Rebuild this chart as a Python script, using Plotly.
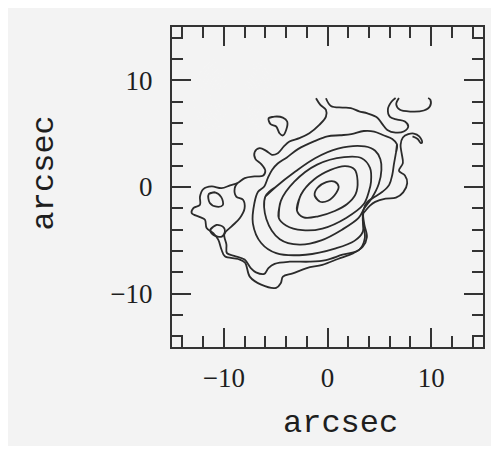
import plotly.graph_objects as go

# ---- contour traces (arcsec) ----
c1_x = [-1.24, -0.76, 0.05, 0.84, 1.07, 0.68, -0.12, -0.98]
c1_y = [-0.80, -1.36, -1.29, -0.57, 0.05, 0.51, 0.46, -0.10]

c2_x = [-2.95, -2.55, -1.3, 0.3, 1.7, 2.6, 2.9, 2.7, 1.9, 0.7, -0.9, -2.3]
c2_y = [-2.2, -0.7, 0.7, 1.6, 1.95, 1.65, 0.6, -0.7, -1.6, -2.25, -2.75, -2.85]

c3_x = [-4.7, -4.5, -3.2, -1.0, 1.6, 3.3, 4.1, 4.2, 4.0, 3.5, 1.8, -0.5, -2.4, -4.0]
c3_y = [-2.9, -1.3, 0.5, 2.1, 2.8, 2.7, 1.8, 0.5, -0.4, -1.6, -2.9, -3.9, -4.05, -3.6]

c4_x = [-5.0, -6.0, -5.9, -4.6, -2.7, -0.6, 1.4, 3.0, 3.55, 4.3, 4.95, 5.2, 5.1, 4.6, 3.6, 1.0, -1.2, -3.1]
c4_y = [0.0, -0.9, -3.0, -4.9, -5.4, -5.0, -4.0, -2.9, -2.0, -1.0, 0.3, 1.6, 2.6, 3.4, 3.8, 3.6, 2.7, 1.45]

c5_x = [6.6, 6.7, 6.25, 5.4, 4.5, 3.5, 2.3, 1.2, 0.0, -1.25, -2.85, -3.95, -4.8, -5.35, -5.75, -6.1,
        -6.7, -7.05, -7.2, -6.4, -4.95, -2.1, 0.8, 2.6, 3.4, 3.4, 3.45, 3.85, 4.35, 5.3, 5.95, 6.25, 6.4]
c5_y = [3.2, 4.0, 4.5, 4.85, 5.2, 5.25, 4.95, 4.85, 4.75, 4.3, 3.55, 2.75, 2.2, 1.6, 0.85, 0.05,
        -0.45, -1.5, -3.4, -5.25, -6.2, -6.35, -5.75, -5.05, -4.2, -3.0, -2.2, -1.4, -1.05, -0.45, 0.2, 1.15, 2.1]

c6_x = [-8.7, -8.95, -8.8, -8.15, -8.0, -8.45, -9.25, -9.95, -9.75, -9.7, -9.0, -8.0, -7.4, -6.9, -6.1,
        -5.7, -5.1, -3.65, -1.75, -0.15, 1.45, 3.05, 3.6, 3.45, 3.4]
c6_y = [0.35, -0.1, -0.9, -1.2, -2.0, -2.9, -3.7, -4.4, -5.4, -6.2, -6.45, -6.8, -7.6, -8.0, -8.15,
        -7.6, -7.2, -7.0, -7.0, -6.85, -6.35, -5.9, -4.8, -3.5, -2.4]

c7_x = [-1.11, -0.69, -0.15, -0.15, -0.79, -1.75, -2.71, -3.67, -4.21, -4.79, -5.36, -5.91, -6.55, -7.03,
        -6.96, -6.39, -6.00, -6.23, -7.03, -7.98, -8.69, -9.4, -10.22, -11.18, -11.98, -12.30, -12.30,
        -12.94, -13.10, -12.30, -11.82, -11.66, -11.02, -10.54, -10.22, -9.90, -8.62, -7.95, -7.5, -6.4,
        -4.95, -4.5, -4.3, -3.35, -2.0, -0.5, 1.0, 2.5, 3.4, 3.8, 3.55, 3.45, 3.6, 4.1, 4.6, 5.6, 6.6,
        7.3, 7.69, 7.47, 6.89, 7.27, 7.15, 7.05, 7.27, 7.79, 8.33, 8.85, 9.13, 9.0, 8.7, 8.2]
c7_y = [8.32, 7.70, 7.23, 6.60, 5.82, 5.04, 4.58, 4.26, 3.80, 3.17, 3.02, 3.39, 3.64, 3.26,
        2.64, 2.14, 1.52, 1.05, 0.99, 0.83, 0.36, 0.15, -0.11, 0.05, -0.20, -0.89, -1.67,
        -1.98, -2.45, -2.82, -3.07, -3.85, -4.32, -4.94, -5.88, -6.50, -6.75, -7.1, -8.4, -9.15,
        -9.45, -9.0, -8.4, -8.1, -7.6, -7.3, -6.75, -6.2, -5.6, -4.7, -3.5, -2.5, -2.3, -1.75, -1.4, -1.1, -1.0,
        -0.5, 0.36, 1.08, 1.52, 2.23, 3.17, 3.95, 4.64, 4.95, 5.01, 4.75, 4.2, 4.12, 4.5, 4.75]

hook_x = [-0.15, 0.33, 1.45, 2.25, 3.05, 3.85, 4.81, 5.29, 5.77, 6.57, 7.35, 7.79, 7.47, 6.73, 6.03, 5.83, 6.19, 6.57]
hook_y = [8.32, 7.6, 7.45, 7.4, 7.1, 6.9, 6.5, 5.9, 5.35, 5.1, 5.2, 5.67, 6.14, 6.32, 6.57, 7.32, 8.01, 8.35]

u_x = [6.89, 6.63, 6.95, 8.01, 9.29, 9.87, 9.93, 9.71]
u_y = [8.35, 7.76, 7.26, 7.07, 7.17, 7.54, 8.17, 8.35]

isl_x = [-5.68, -5.10, -4.31, -3.89, -3.98, -4.31, -4.63, -4.95, -5.49]
isl_y = [6.45, 6.60, 6.51, 6.14, 5.36, 4.83, 5.04, 5.67, 5.89]

lp1_x = [-11.45, -10.85, -10.25, -10.1, -10.7, -11.35]
lp1_y = [-0.65, -0.5, -0.95, -1.7, -1.85, -1.5]

lp2_x = [-11.3, -10.7, -10.0, -9.9, -10.2, -11.0]
lp2_y = [-4.0, -3.55, -3.8, -4.2, -4.65, -4.5]

x_ticks = [-10, 0, 10]
y_ticks = [-10, 0, 10]
axis_label = "arcsec"

closed_sets = [(c1_x, c1_y), (c2_x, c2_y), (c3_x, c3_y), (c4_x, c4_y), (c5_x, c5_y),
               (isl_x, isl_y), (lp1_x, lp1_y), (lp2_x, lp2_y)]
open_sets = [(c6_x, c6_y), (c7_x, c7_y), (hook_x, hook_y), (u_x, u_y)]

LINE = "#2b2b2b"
BG = "#f3f3f3"

fig = go.Figure()
for xs, ys in closed_sets:
    fig.add_trace(go.Scatter(x=xs + xs[:2], y=ys + ys[:2], mode="lines",
                             line=dict(color=LINE, width=1.8, shape="spline", smoothing=1.0),
                             hoverinfo="skip", showlegend=False))
for xs, ys in open_sets:
    fig.add_trace(go.Scatter(x=xs, y=ys, mode="lines",
                             line=dict(color=LINE, width=1.8, shape="spline", smoothing=1.0),
                             hoverinfo="skip", showlegend=False))

# faint whitish glow in the upper-left of the frame (scan artefact), soft edged
for i in range(10):
    r = 4.2 - i * 0.33
    fig.add_shape(type="circle", xref="x", yref="y", x0=-8.8 - r, x1=-8.8 + r,
                  y0=8.4 - r, y1=8.4 + r, fillcolor="white", opacity=0.07,
                  line=dict(width=0), layer="below")

axis_common = dict(
    range=[-15, 15], showgrid=False, zeroline=False,
    showline=True, linecolor="#333333", linewidth=2, mirror="allticks",
    ticks="inside", ticklen=19, tickwidth=2, tickcolor="#333333",
    tickfont=dict(family="Liberation Serif", size=27, color="#1e1e1e"),
    minor=dict(ticks="inside", ticklen=11, tickwidth=2, tickcolor="#333333", dtick=2, tick0=0, showgrid=False),
    fixedrange=True,
)
fig.update_xaxes(tickvals=x_ticks, ticktext=[str(v).replace("-", "\u2212") for v in x_ticks],
                 ticklabelstandoff=6, **axis_common)
fig.update_yaxes(tickvals=y_ticks, ticktext=[str(v).replace("-", "\u2212") for v in y_ticks],
                 ticklabelstandoff=12, **axis_common)

fig.add_annotation(text=axis_label, xref="paper", yref="paper", x=0.543, y=-0.238,
                   xanchor="center", yanchor="middle", showarrow=False,
                   font=dict(family="Liberation Mono", size=32, color="#1e1e1e"))
fig.add_annotation(text=axis_label, xref="paper", yref="paper", x=-0.41, y=0.544,
                   xanchor="center", yanchor="middle", showarrow=False, textangle=-90,
                   font=dict(family="Liberation Mono", size=32, color="#1e1e1e"))

fig.update_layout(width=491, height=438, margin=dict(l=164, r=16, t=19, b=99),
                  paper_bgcolor=BG, plot_bgcolor=BG)
fig.write_html("out.html")
